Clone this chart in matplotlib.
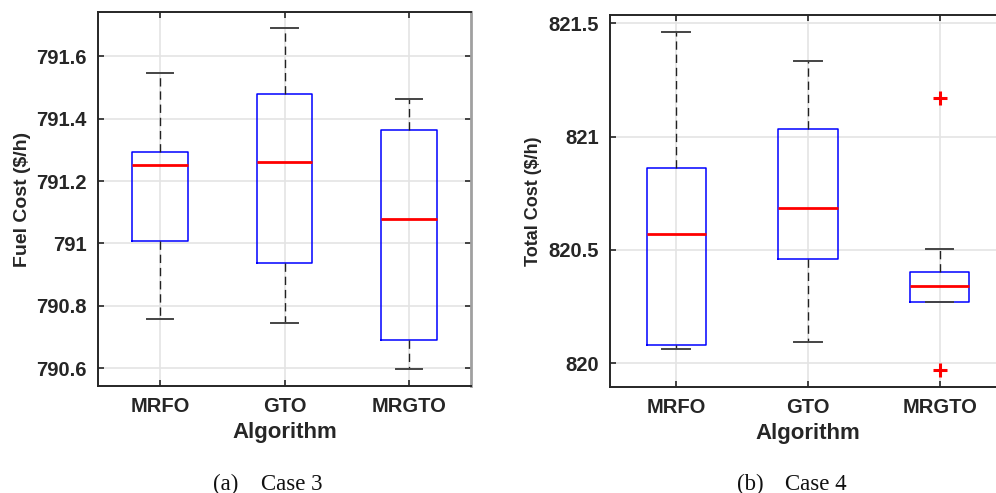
import matplotlib
matplotlib.use("Agg")
import matplotlib.pyplot as plt

plt.rcParams["font.family"] = ["Liberation Sans", "DejaVu Sans"]

algorithms = ["MRFO", "GTO", "MRGTO"]

# Case 3 - fuel cost ($/h)
c3_whislo = [790.757, 790.744, 790.599]
c3_q1 = [791.009, 790.936, 790.692]
c3_med = [791.253, 791.260, 791.079]
c3_q3 = [791.293, 791.478, 791.364]
c3_whishi = [791.548, 791.690, 791.464]
c3_fliers = [[], [], []]
c3_ticks = [790.6, 790.8, 791.0, 791.2, 791.4, 791.6]
c3_ticklabels = ["790.6", "790.8", "791", "791.2", "791.4", "791.6"]

# Case 4 - total cost ($/h)
c4_whislo = [820.064, 820.094, 820.269]
c4_q1 = [820.080, 820.462, 820.269]
c4_med = [820.571, 820.687, 820.340]
c4_q3 = [820.860, 821.032, 820.402]
c4_whishi = [821.460, 821.332, 820.503]
c4_fliers = [[], [], [821.170, 819.970]]
c4_ticks = [820.0, 820.5, 821.0, 821.5]
c4_ticklabels = ["820", "820.5", "821", "821.5"]


def make_stats(lo, q1, med, q3, hi, fl):
    return [dict(whislo=a, q1=b, med=c, q3=d, whishi=e, fliers=f, label=n)
            for a, b, c, d, e, f, n in zip(lo, q1, med, q3, hi, fl, algorithms)]


def draw(ax, stats, ticks, ticklabels, ylim, ylabel, ylsize, labelpad):
    ax.bxp(stats, positions=[1, 2, 3], widths=0.45, capwidths=0.21,
           boxprops=dict(color="#0000ff", linewidth=1.1),
           medianprops=dict(color="#ff0000", linewidth=2),
           whiskerprops=dict(color="#222222", linewidth=1, linestyle=(0, (6, 3.5))),
           capprops=dict(color="#444444", linewidth=1.4),
           flierprops=dict(marker="+", markeredgecolor="#ff0000", markersize=10,
                           markeredgewidth=2.2),
           zorder=3)
    ax.set_xlim(0.5, 3.5)
    ax.set_ylim(*ylim)
    ax.set_xticks([1, 2, 3], algorithms)
    ax.set_yticks(ticks, ticklabels)
    ax.grid(True, color="#e4e4e4", linewidth=1.2, zorder=0)
    ax.set_axisbelow(True)
    ax.tick_params(direction="in", length=4, width=1.2, color="#262626",
                   top=True, right=True, labelsize=14.5, pad=8)
    for lab in ax.get_xticklabels() + ax.get_yticklabels():
        lab.set_fontweight("bold")
        lab.set_color("#262626")
    for s in ax.spines.values():
        s.set_linewidth(1.4)
        s.set_color("#262626")
    ax.set_xlabel("Algorithm", fontsize=16, fontweight="bold", color="#262626", labelpad=4)
    ax.set_ylabel(ylabel, fontsize=ylsize, fontweight="bold", color="#262626", labelpad=labelpad)


fig = plt.figure(figsize=(9.96, 4.93), dpi=100)
W, H = 996, 493

ax1 = fig.add_axes([98 / W, (H - 386) / H, 373 / W, 374 / H])
draw(ax1, make_stats(c3_whislo, c3_q1, c3_med, c3_q3, c3_whishi, c3_fliers),
     c3_ticks, c3_ticklabels, (790.543, 791.742), "Fuel Cost ($/h)", 14, 4)
ax1.spines["right"].set_color("#a0a0a0")
ax1.spines["right"].set_linewidth(2)

ax2 = fig.add_axes([610.3 / W, (H - 387.3) / H, 395.2 / W, 372 / H])
draw(ax2, make_stats(c4_whislo, c4_q1, c4_med, c4_q3, c4_whishi, c4_fliers),
     c4_ticks, c4_ticklabels, (819.894, 821.535), "Total Cost ($/h)", 13, 5)

cap = dict(fontsize=16.5, family=["Liberation Serif", "DejaVu Serif"], va="center",
           color="#111111")
fig.text(213 / W, 1 - 484 / H, "(a)", ha="left", **cap)
fig.text(261 / W, 1 - 484 / H, "Case 3", ha="left", **cap)
fig.text(737 / W, 1 - 484 / H, "(b)", ha="left", **cap)
fig.text(785 / W, 1 - 484 / H, "Case 4", ha="left", **cap)

fig.savefig("out.png", dpi=100)
